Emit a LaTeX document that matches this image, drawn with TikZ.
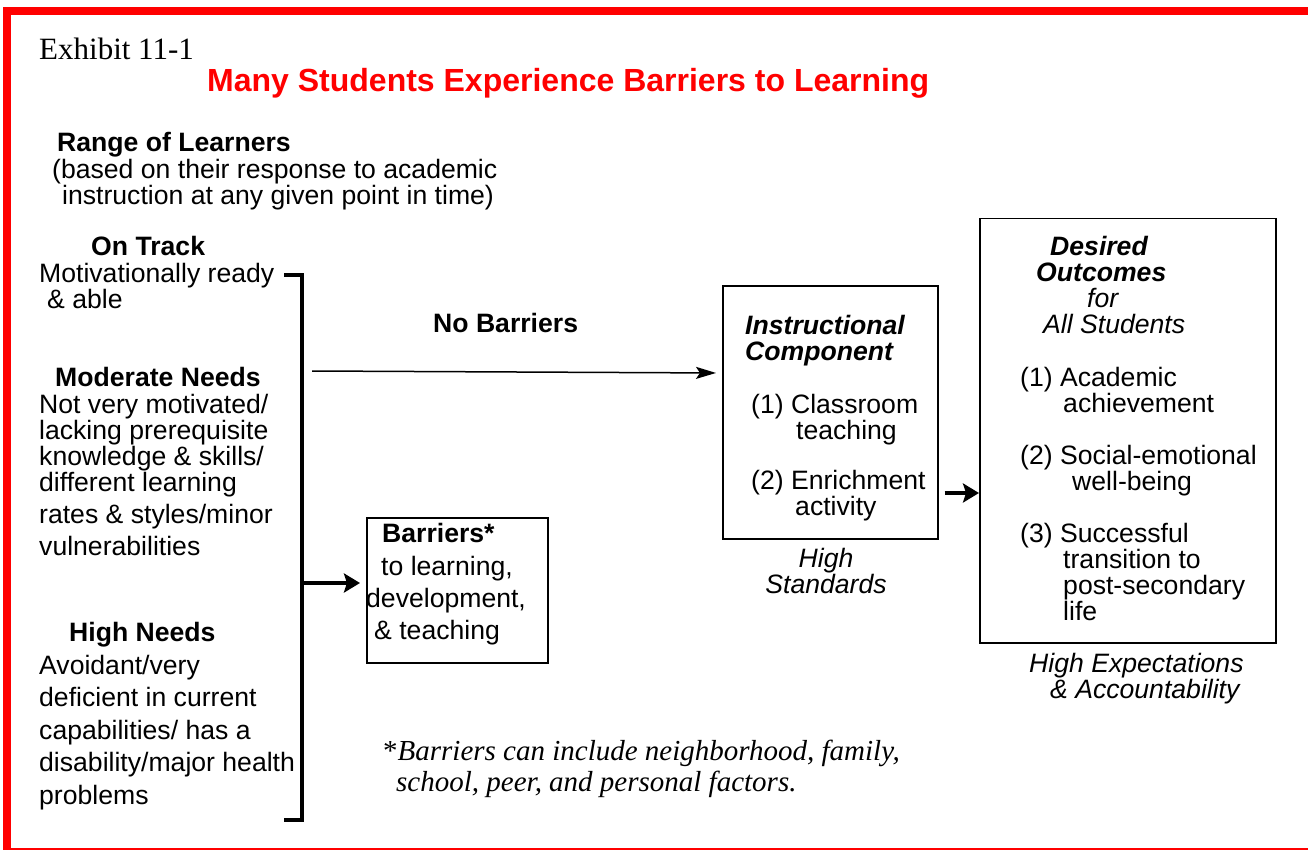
\documentclass[tikz,border=0pt]{standalone}
\usepackage{fontspec}
\setmainfont{Liberation Sans}
\newfontfamily\timesfont{Liberation Serif}
\usetikzlibrary{arrows.meta,positioning}
\definecolor{framered}{RGB}{255,0,0}
\tikzstyle{txt} = [inner sep=0pt, anchor=base west, align=left, font=\fontsize{26.6}{26}\selectfont]
\tikzstyle{head} = [txt, font=\fontsize{26.6}{26}\selectfont\bfseries]
\tikzstyle{ital} = [txt, font=\fontsize{26.6}{26}\selectfont\itshape]
\tikzstyle{box} = [draw, line width=1.5pt, inner sep=0pt, anchor=north west]
\tikzstyle{bracket} = [line width=4pt]
\tikzstyle{thickarrow} = [line width=3.5pt, -{Stealth[length=16pt,width=19pt,inset=3pt]}]
\tikzstyle{thinarrow} = [line width=1.5pt, -{Stealth[length=20pt,width=12pt,inset=4pt]}]

\begin{document}
\begin{tikzpicture}[x=1pt,y=-1pt]
            \useasboundingbox (0,0) rectangle (1308,850);
            \draw[framered, line width=8pt] (7,11) rectangle (1320,852);

            \node [txt, font=\timesfont\fontsize{31}{31}\selectfont] (exhibit) at (39,60) {Exhibit 11-1};
            \node [txt, font=\fontsize{32}{32}\selectfont\bfseries, text=framered] (title) at (207,92) {Many Students Experience Barriers to Learning};

            % learners on the left (multi-line nodes sit on their last line)
            \node [head] (range) at (57,152) {Range of Learners};
            \node [txt] (rangesub) at (52,205) {(based on their response to academic\\\hspace*{10pt}instruction at any given point in time)};
            \node [head] (ontrack) at (91,255) {On Track};
            \node [txt] (ontracktext) at (39,308) {Motivationally ready\\\hspace*{8pt}\& able};
            \node [head] (moderate) at (55,386) {Moderate Needs};
            \node [txt] (moderatetext) at (39,555) {Not very motivated/\\lacking prerequisite\\knowledge \& skills/\\different learning\\[6pt]rates \& styles/minor\\[6pt]vulnerabilities};
            \node [head] (high) at (69,641) {High Needs};
            \node [txt] (hightext) at (39,804) {Avoidant/very\\[6.5pt]deficient in current\\[6.5pt]capabilities/ has a\\[6.5pt]disability/major health\\[6.5pt]problems};

            \coordinate (brtop) at (284,275);
            \coordinate (brbot) at (284,820);
            \coordinate (brmid) at (302,583);
            \coordinate (nbstart) at (312,371);

            % boxes
            \node [box, minimum width=181pt, minimum height=145pt] (barbox) at (366,517) {};
            \node [box, minimum width=215pt, minimum height=253pt] (instbox) at (722,285) {};
            \node [box, minimum width=296pt, minimum height=424pt] (outbox) at (979,218) {};

            \node [txt] (bartext) at (366,639) {\hspace*{16pt}\textbf{Barriers*}\\[7pt]\hspace*{15pt}to learning,\\[6pt]development,\\[6pt]\hspace*{8pt}\& teaching};
            \node [head] (nobar) at (433,332) {No Barriers};

            \node [txt, font=\fontsize{26.6}{26}\selectfont\bfseries\itshape] (insthead) at (745,360) {Instructional\\Component};
            \node [txt] (inst1) at (751,439) {(1) Classroom\\\hspace*{45pt}teaching};
            \node [txt] (inst2) at (751,515) {(2) Enrichment\\\hspace*{44pt}activity};
            \node [ital, anchor=base, align=center] (instfoot) at (826,593) {High\\Standards};

            \node [ital] (outhead) at (1036,333) {\hspace*{14pt}\textbf{Desired}\\\textbf{Outcomes}\\\hspace*{51pt}for\\\hspace*{7pt}All Students};
            \node [txt] (out1) at (1020,412) {(1) Academic\\\hspace*{43pt}achievement};
            \node [txt] (out2) at (1020,490) {(2) Social-emotional\\\hspace*{52pt}well-being};
            \node [txt] (out3) at (1020,620) {(3) Successful\\\hspace*{43pt}transition to\\\hspace*{43pt}post-secondary\\\hspace*{43pt}life};
            \node [ital] (outfoot) at (1029,698) {High Expectations\\\hspace*{21pt}\& Accountability};

            \node [txt, font=\timesfont\fontsize{29}{31}\selectfont] (footnote) at (383,791) {*\textit{Barriers can include neighborhood, family,}\\\hspace*{13pt}\textit{school, peer, and personal factors.}};

            % connectors
            \draw[bracket] (brtop) -- ++(18,0) |- (brbot);
            \draw[thickarrow, shorten >=6pt] (brmid) -- (brmid -| barbox.west);
            \draw[thinarrow, shorten >=6pt] (nbstart) -- ([yshift=-2pt]nbstart -| instbox.west);
            \draw[thickarrow, shorten <=6pt] (instbox.east |- 0,493) -- (outbox.west |- 0,493);
        \end{tikzpicture}
\end{document}
